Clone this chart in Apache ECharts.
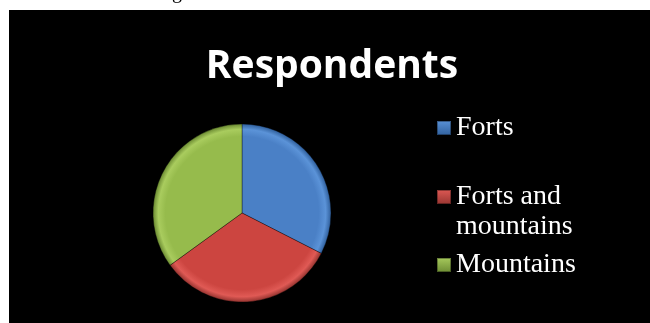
<!DOCTYPE html>
<html>
<head>
<meta charset="utf-8">
<title>Respondents</title>
<script src="https://cdn.jsdelivr.net/npm/echarts@6/dist/echarts.min.js"></script>
<style>
  html, body { margin: 0; padding: 0; background: #ffffff; }
  #chart { width: 650px; height: 323px; }
</style>
</head>
<body>
<div id="chart"></div>
<script>
// Survey answers
const categories = ['Forts', 'Forts and mountains', 'Mountains'];
const respondents = [13, 13, 14];
// The leading blank line keeps the first row level with the legend icon
const legendLabels = ['Forts', '\nForts and\nmountains', 'Mountains'];

// Slice colours: [light, base, dark]
const palette = [
  ['#5b93d8', '#4a80c6', '#2f5f9c'],
  ['#e05a55', '#cc4540', '#953430'],
  ['#a9cc5e', '#96bb4c', '#6b8a32']
];

const pieCenter = [242, 213];
const pieRadius = 89;

function sliceFill(c) {
  return {
    type: 'radial', x: pieCenter[0], y: pieCenter[1], r: pieRadius, global: true,
    colorStops: [
      { offset: 0, color: c[1] },
      { offset: 0.86, color: c[1] },
      { offset: 0.94, color: c[0] },
      { offset: 1, color: c[2] }
    ]
  };
}

function iconFill(c) {
  return {
    type: 'linear', x: 0, y: 0, x2: 0, y2: 1,
    colorStops: [
      { offset: 0, color: c[0] },
      { offset: 1, color: c[2] }
    ]
  };
}

const legendTops = [113, 152, 250];
const legendText = { color: '#ffffff', fontFamily: 'Liberation Serif', fontSize: 28, lineHeight: 30 };

const chart = echarts.init(document.getElementById('chart'), null, { renderer: 'canvas' });

chart.setOption({
  backgroundColor: '#ffffff',
  animation: false,
  graphic: [
    { type: 'rect', left: 9, top: 10, z: -10, shape: { width: 641, height: 313 }, style: { fill: '#000000' } },
    { type: 'text', x: 172, y: 3, z: -5,
      style: { text: 'g', fill: '#000000', font: '20px "Liberation Serif"', verticalAlign: 'bottom' } }
  ],
  title: {
    text: 'Respondents',
    left: 327, top: 42, textAlign: 'center',
    textStyle: { color: '#ffffff', fontFamily: 'Open Sans', fontWeight: 'bold', fontSize: 39 }
  },
  legend: categories.map((name, i) => ({
    orient: 'vertical',
    left: 436,
    top: legendTops[i],
    padding: 0,
    icon: 'rect',
    itemWidth: 14,
    itemHeight: 14,
    itemGap: 0,
    data: [{ name, itemStyle: { color: iconFill(palette[i]) } }],
    formatter: () => legendLabels[i],
    textStyle: legendText,
    selectedMode: false
  })),
  series: [{
    type: 'pie',
    center: pieCenter,
    radius: pieRadius,
    startAngle: 90,
    clockwise: true,
    label: { show: false },
    labelLine: { show: false },
    emphasis: { disabled: true },
    itemStyle: { borderColor: 'rgba(0,0,0,0.35)', borderWidth: 1 },
    data: categories.map((name, i) => ({
      name, value: respondents[i],
      itemStyle: { color: sliceFill(palette[i]) }
    }))
  }]
});
</script>
</body>
</html>
